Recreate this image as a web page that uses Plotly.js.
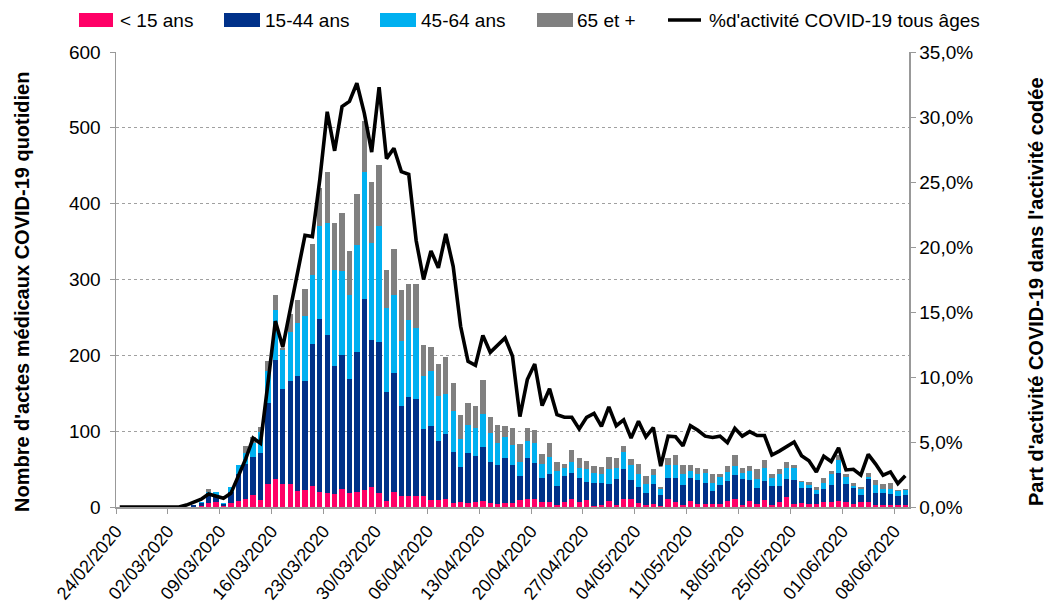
<!DOCTYPE html>
<html>
<head>
<meta charset="utf-8">
<script src="https://cdn.plot.ly/plotly-3.0.1.min.js"></script>
<style>
  html, body { margin: 0; padding: 0; background: #fff; }
  #chart { width: 1048px; height: 605px; }
</style>
</head>
<body>
<div id="chart"></div>
<script>
// Daily dates (24/02/2020 -> 09/06/2020)
const dates = [
  "2020-02-24","2020-02-25","2020-02-26","2020-02-27","2020-02-28","2020-02-29",
  "2020-03-01","2020-03-02","2020-03-03","2020-03-04","2020-03-05","2020-03-06","2020-03-07","2020-03-08","2020-03-09","2020-03-10",
  "2020-03-11","2020-03-12","2020-03-13","2020-03-14","2020-03-15","2020-03-16","2020-03-17","2020-03-18","2020-03-19","2020-03-20",
  "2020-03-21","2020-03-22","2020-03-23","2020-03-24","2020-03-25","2020-03-26","2020-03-27","2020-03-28","2020-03-29","2020-03-30","2020-03-31",
  "2020-04-01","2020-04-02","2020-04-03","2020-04-04","2020-04-05","2020-04-06","2020-04-07","2020-04-08","2020-04-09","2020-04-10",
  "2020-04-11","2020-04-12","2020-04-13","2020-04-14","2020-04-15","2020-04-16","2020-04-17","2020-04-18","2020-04-19","2020-04-20",
  "2020-04-21","2020-04-22","2020-04-23","2020-04-24","2020-04-25","2020-04-26","2020-04-27","2020-04-28","2020-04-29","2020-04-30",
  "2020-05-01","2020-05-02","2020-05-03","2020-05-04","2020-05-05","2020-05-06","2020-05-07","2020-05-08","2020-05-09","2020-05-10",
  "2020-05-11","2020-05-12","2020-05-13","2020-05-14","2020-05-15","2020-05-16","2020-05-17","2020-05-18","2020-05-19","2020-05-20",
  "2020-05-21","2020-05-22","2020-05-23","2020-05-24","2020-05-25","2020-05-26","2020-05-27","2020-05-28","2020-05-29","2020-05-30","2020-05-31",
  "2020-06-01","2020-06-02","2020-06-03","2020-06-04","2020-06-05","2020-06-06","2020-06-07","2020-06-08","2020-06-09"
];

// Daily COVID-19 medical acts by age group
const moins15 = [0,0,0,0,0,0,0,0,0,0, 0,1,5,6,1,5,8,11,16,9,
  30,37,30,30,21,22,28,20,19,17, 24,19,20,23,27,19,8,20,14,15,
  14,15,9,9,11,5,7,5,7,8, 5,4,5,5,9,11,10,6,6,3,
  6,10,7,9,1,3,8,3,10,11, 5,3,4,1,10,6,3,8,4,4,
  4,4,8,11,3,8,4,9,3,6, 13,4,5,4,4,6,7,8,6,4,
  6,6,2,2,2,2,2];
const ans15_44 = [0,0,0,0,0,0,0,0,0,0, 2,4,13,10,3,15,36,46,50,62,
  107,157,126,136,152,144,187,228,208,169, 176,150,185,251,193,198,144,157,119,130,
  129,88,98,78,85,67,46,66,60,71, 54,52,59,51,32,54,48,32,38,25,
  35,35,31,24,30,29,22,34,40,24, 21,15,26,15,28,32,26,30,32,28,
  17,25,26,31,34,27,21,25,25,22, 24,31,20,21,13,18,22,37,24,21,
  10,31,16,17,15,12,14];
const ans45_64 = [0,0,0,0,0,0,0,0,0,0, 0,1,2,4,1,6,11,14,18,28,
  42,66,51,65,70,86,91,122,148,127, 111,111,141,168,128,154,111,102,86,101,
  93,70,72,59,53,54,37,37,37,43, 39,29,28,26,19,22,26,19,22,20,
  11,15,14,17,14,12,20,15,22,20, 18,12,12,8,18,18,15,10,7,13,
  11,11,12,12,8,12,12,18,10,16, 14,16,8,4,5,8,14,17,9,3,
  8,3,11,5,7,7,7];
const ans65plus = [0,0,0,0,0,0,0,0,0,0, 0,0,4,0,0,0,1,10,8,7,
  14,20,3,23,30,35,41,51,67,62, 77,57,67,67,81,80,50,61,67,48,
  58,40,32,43,49,37,31,29,29,46, 21,23,15,22,23,17,17,13,19,11,
  5,15,12,11,9,9,16,12,9,8, 13,11,8,3,9,12,11,8,9,5,
  11,4,8,14,7,7,13,10,6,6, 8,4,1,4,5,6,4,7,4,3,
  2,5,6,6,8,1,1];

// % of coded activity that is COVID-19 (all ages)
const pctActivite = [0,0,0,0,0,0,0,0,0,0.15, 0.4,0.6,1.0,0.85,0.67,1.05,2.3,3.7,5.3,4.9,
  9.5,14.3,12.3,15.2,18.0,20.9,20.8,25.2,30.4,27.4,
  30.8,31.2,32.6,30.3,27.3,32.3,26.8,27.6,25.8,25.6,
  20.5,17.5,19.7,18.4,21.0,18.5,13.9,11.2,10.9,13.2,
  11.9,12.5,13.0,11.6,6.95,9.8,11.0,7.8,9.1,7.1,
  6.9,6.9,6.0,6.9,7.2,6.2,7.7,6.25,6.7,5.3,
  6.6,5.4,6.1,3.15,5.45,5.4,4.7,6.25,5.9,5.45,
  5.35,5.45,4.95,6.05,5.45,5.8,5.5,5.5,4.0,4.3,
  4.65,5.0,3.95,3.55,2.7,3.9,3.5,4.55,2.85,2.9,
  2.45,4.05,3.3,2.45,2.7,1.8,2.4];

// Weekly tick positions and labels
const tickDates = ["2020-02-24","2020-03-02","2020-03-09","2020-03-16","2020-03-23","2020-03-30","2020-04-06",
  "2020-04-13","2020-04-20","2020-04-27","2020-05-04","2020-05-11","2020-05-18","2020-05-25","2020-06-01","2020-06-08"];
const tickLabels = ["24/02/2020","02/03/2020","09/03/2020","16/03/2020","23/03/2020","30/03/2020","06/04/2020",
  "13/04/2020","20/04/2020","27/04/2020","04/05/2020","11/05/2020","18/05/2020","25/05/2020","01/06/2020","08/06/2020"];
const leftTicks = [0,100,200,300,400,500,600];
const rightTicks = [0,5,10,15,20,25,30,35];
const rightTickLabels = ["0,0%","5,0%","10,0%","15,0%","20,0%","25,0%","30,0%","35,0%"];
const seriesNames = ["< 15 ans","15-44 ans","45-64 ans","65 et +"];
const lineName = "%d'activité COVID-19 tous âges";
const leftTitle = "Nombre d'actes médicaux COVID-19 quotidien";
const rightTitle = "Part d'activité COVID-19 dans l'activité codée";

const FONT = "Liberation Sans, Arial, sans-serif";
const DAY = 86400000;
const COLORS = ["#FF0066", "#003189", "#00B0F0", "#808080"];

// plot area in pixels (used only to place the custom legend and titles)
const PL = 116, PR = 909, PT = 52, PB = 507;
const px = v => (v - PL) / (PR - PL);
const py = v => (PB - v) / (PB - PT);

function barTrace(name, values, color) {
  return {
    type: "bar", name: name, x: dates, y: values,
    xperiod: DAY, xperiodalignment: "middle",
    marker: { color: color, line: { width: 0 } },
    showlegend: false, hoverinfo: "x+y+name"
  };
}

const seriesValues = [moins15, ans15_44, ans45_64, ans65plus];
const traces = seriesNames.map((n, k) => barTrace(n, seriesValues[k], COLORS[k]));
traces.push({
  type: "scatter", mode: "lines", name: lineName,
  x: dates, y: pctActivite, yaxis: "y2",
  xperiod: DAY, xperiodalignment: "middle",
  line: { color: "#000000", width: 3.6 },
  showlegend: false
});

// Custom legend (Excel-style wide swatches)
const swatchX = [[79, 113], [224, 260], [380, 416], [537, 573]];
const textX = [119, 264, 420, 576, 708];
const legendShapes = swatchX.map((s, k) => ({
  type: "rect", xref: "paper", yref: "paper",
  x0: px(s[0]), x1: px(s[1]), y0: py(27), y1: py(13),
  fillcolor: COLORS[k], line: { width: 0 }
}));
legendShapes.push({
  type: "line", xref: "paper", yref: "paper",
  x0: px(668), x1: px(701), y0: py(20), y1: py(20),
  line: { color: "#000", width: 3.6 }
});
const legendLabels = seriesNames.concat([lineName]).map((t, k) => ({
  text: t, xref: "paper", yref: "paper", x: px(textX[k]), y: py(20),
  xanchor: "left", yanchor: "middle", showarrow: false, borderpad: 0,
  font: { family: FONT, size: 19, color: "#000" }
}));

const layout = {
  width: 1048, height: 605,
  margin: { l: PL, r: 1048 - PR, t: PT, b: 605 - PB, autoexpand: false },
  paper_bgcolor: "#ffffff", plot_bgcolor: "#ffffff",
  font: { family: FONT, size: 19, color: "#000000" },
  barmode: "stack", bargap: 0.28,
  showlegend: false,
  xaxis: {
    type: "date",
    range: ["2020-02-24", "2020-06-10"],
    tickmode: "array", tickvals: tickDates, ticktext: tickLabels,
    tickangle: -50,
    ticks: "outside", ticklen: 5, tickcolor: "#999999",
    showline: true, linecolor: "#999999", linewidth: 1.5,
    showgrid: false, zeroline: false,
    tickfont: { family: FONT, size: 18, color: "#000" }
  },
  yaxis: {
    range: [0, 600], tickmode: "array", tickvals: leftTicks,
    ticks: "outside", ticklen: 5, tickcolor: "#999999",
    showline: true, linecolor: "#999999", linewidth: 1.5,
    showgrid: true, gridcolor: "#a0a0a0", griddash: "dot", gridwidth: 1,
    zeroline: false, ticklabelstandoff: 5,
    tickfont: { family: FONT, size: 19, color: "#000" }
  },
  yaxis2: {
    overlaying: "y", side: "right",
    range: [0, 35], tickmode: "array", tickvals: rightTicks, ticktext: rightTickLabels,
    ticks: "outside", ticklen: 5, tickcolor: "#999999",
    showline: true, linecolor: "#999999", linewidth: 1.5,
    showgrid: false, zeroline: false,
    tickfont: { family: FONT, size: 19, color: "#000" }
  },
  shapes: legendShapes,
  annotations: legendLabels.concat([
    { text: "<b>" + leftTitle + "</b>", xref: "paper", yref: "paper",
      x: px(22), y: py(292), xanchor: "center", yanchor: "middle", textangle: -90,
      showarrow: false, font: { family: FONT, size: 20, color: "#000" } },
    { text: "<b>" + rightTitle + "</b>", xref: "paper", yref: "paper",
      x: px(1036), y: py(292), xanchor: "center", yanchor: "middle", textangle: -90,
      showarrow: false, font: { family: FONT, size: 20, color: "#000" } }
  ])
};

Plotly.newPlot("chart", traces, layout, { displayModeBar: false, staticPlot: true });
</script>
</body>
</html>
